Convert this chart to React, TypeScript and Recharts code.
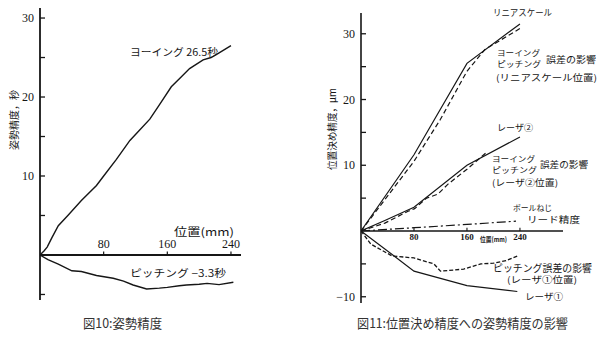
import { Line, LineChart, ReferenceLine, XAxis, YAxis } from 'recharts'

// 図10: 姿勢精度 (x: 位置 mm, y: 秒)
const yawPos = [0, 5, 9, 15, 23, 35, 52, 71, 80, 96, 113, 125, 138, 150, 165, 178, 188, 205, 215, 222, 240]
const yawVal = [0, 0.5, 1.0, 2.2, 3.7, 5.0, 6.9, 8.8, 10.0, 12.1, 14.5, 15.8, 17.2, 19.0, 21.3, 22.6, 23.6, 24.7, 25.0, 25.4, 26.5]
const pitchPos = [0, 10, 23, 40, 52, 71, 92, 105, 117, 134, 150, 160, 175, 184, 200, 210, 225, 243]
const pitchVal = [0, -0.6, -1.15, -2.0, -2.1, -2.6, -2.95, -3.3, -3.8, -4.3, -4.2, -4.1, -3.9, -3.8, -3.7, -3.6, -3.75, -3.45]

const leftYTicks = [-5, 5, 10, 15, 20, 25, 30]
const leftYLabels = [10, 20, 30]
const leftXTicks = [80, 160, 240]

// 図11: 位置決め精度 (x: 位置 mm, y: μm)
const scalePos = [0, 80, 160, 240]
const scaleVal = [0, 11.6, 25.5, 31.5]
const scaleEffPos = [0, 40, 80, 120, 160, 187, 240]
const scaleEffVal = [0, 5.3, 10.6, 17.0, 24.3, 27.6, 30.8]
const laser2Pos = [0, 36, 80, 160, 240]
const laser2Val = [0, 1.6, 3.6, 10.0, 14.3]
const laser2EffPos = [0, 36, 71, 81, 99, 116, 131, 160, 190]
const laser2EffVal = [0, 1.2, 3.0, 3.4, 5.0, 5.6, 7.1, 9.4, 12.0]
const screwPos = [0, 80, 160, 234]
const screwVal = [0, 0.5, 1.0, 1.5]
const pitchEffPos = [0, 15, 47, 80, 110, 120, 155, 181, 200, 219, 236]
const pitchEffVal = [0, -2.0, -3.8, -4.1, -5.0, -6.1, -5.8, -5.0, -4.9, -4.5, -3.8]
const laser1Pos = [0, 50, 80, 160, 236]
const laser1Val = [0, -3.8, -6.1, -8.3, -9.2]

const rightYTicks = [-10, -5, 5, 10, 15, 20, 25, 30]
const rightYLabels = [-10, 10, 20, 30]
const rightXTicks = [80, 160, 240]

const ink = '#161616'
const numFont = '"Liberation Serif", serif'
const jpFont = '"Noto Sans CJK JP", sans-serif'

function toPoints(xs: number[], ys: number[]) {
  return xs.map((x, i) => ({ x, y: ys[i] }))
}

function yTick(labels: number[], fontSize: number) {
  return (props: any) => {
    const { x, y, payload } = props
    const v = payload.value as number
    return (
      <g key={`t-${v}`}>
        <line x1={x} y1={y} x2={x + 5} y2={y} stroke={ink} strokeWidth={1.3} />
        {labels.includes(v) && (
          <text x={x - 6} y={y} dy="0.35em" textAnchor="end" fontSize={fontSize} fontFamily={numFont} fill={ink}>
            {v < 0 ? `−${-v}` : v}
          </text>
        )}
      </g>
    )
  }
}

function AttitudeChart() {
  return (
    <LineChart width={607} height={342} margin={{ top: 8, right: 366, bottom: 42, left: 10 }}>
      <XAxis type="number" dataKey="x" domain={[0, 252.6]} allowDataOverflow hide />
      <YAxis
        type="number"
        domain={[-5.7, 31.27]}
        allowDataOverflow
        ticks={leftYTicks}
        interval={0}
        width={30}
        tickSize={0}
        tickMargin={0}
        tickLine={false}
        axisLine={{ stroke: ink, strokeWidth: 1.8 }}
        tick={yTick(leftYLabels, 12)}
      />
      <ReferenceLine y={0} stroke={ink} strokeWidth={1.8} />
      {leftXTicks.map((t) => (
        <ReferenceLine
          key={t}
          segment={[{ x: t, y: 0.45 }, { x: t, y: 0 }]}
          stroke={ink}
          strokeWidth={1.2}
          label={{ value: String(t), position: 'top', offset: 3, fontSize: 12, fontFamily: numFont, fill: ink }}
        />
      ))}
      <Line data={toPoints(yawPos, yawVal)} dataKey="y" type="linear" stroke={ink} strokeWidth={1.4} dot={false} isAnimationActive={false} />
      <Line data={toPoints(pitchPos, pitchVal)} dataKey="y" type="linear" stroke={ink} strokeWidth={1.4} dot={false} isAnimationActive={false} />
    </LineChart>
  )
}

function PositioningChart() {
  return (
    <LineChart width={607} height={342} margin={{ top: 13, right: 44, bottom: 39, left: 331 }}>
      <XAxis type="number" dataKey="x" domain={[0, 305]} allowDataOverflow hide />
      <YAxis
        type="number"
        domain={[-10.95, 33.16]}
        allowDataOverflow
        ticks={rightYTicks}
        interval={0}
        width={30}
        tickSize={0}
        tickMargin={0}
        tickLine={false}
        axisLine={{ stroke: ink, strokeWidth: 1.6 }}
        tick={yTick(rightYLabels, 12)}
      />
      <ReferenceLine y={0} stroke={ink} strokeWidth={1.6} />
      {rightXTicks.map((t) => (
        <ReferenceLine
          key={t}
          segment={[{ x: t, y: 0.5 }, { x: t, y: 0 }]}
          stroke={ink}
          strokeWidth={1.1}
          label={{ value: String(t), position: 'bottom', offset: 3, fontSize: 9, fontWeight: 'bold', fontFamily: numFont, fill: ink }}
        />
      ))}
      <Line data={toPoints(scalePos, scaleVal)} dataKey="y" type="linear" stroke={ink} strokeWidth={1.2} dot={false} isAnimationActive={false} />
      <Line data={toPoints(scaleEffPos, scaleEffVal)} dataKey="y" type="linear" stroke={ink} strokeWidth={1.2} strokeDasharray="5 3" dot={false} isAnimationActive={false} />
      <Line data={toPoints(laser2Pos, laser2Val)} dataKey="y" type="linear" stroke={ink} strokeWidth={1.2} dot={false} isAnimationActive={false} />
      <Line data={toPoints(laser2EffPos, laser2EffVal)} dataKey="y" type="linear" stroke={ink} strokeWidth={1.2} strokeDasharray="5 3" dot={false} isAnimationActive={false} />
      <Line data={toPoints(screwPos, screwVal)} dataKey="y" type="linear" stroke={ink} strokeWidth={1.2} strokeDasharray="9 3 2 3" dot={false} isAnimationActive={false} />
      <Line data={toPoints(pitchEffPos, pitchEffVal)} dataKey="y" type="linear" stroke={ink} strokeWidth={1.3} strokeDasharray="4 2" dot={false} isAnimationActive={false} />
      <Line data={toPoints(laser1Pos, laser1Val)} dataKey="y" type="linear" stroke={ink} strokeWidth={1.2} dot={false} isAnimationActive={false} />
    </LineChart>
  )
}

type Note = { text: string; x: number; y: number; w: number; size: number; weight?: string }

const notes: Note[] = [
  { text: 'ヨーイング 26.5秒', x: 130, y: 52, w: 88, size: 10 },
  { text: 'ピッチング −3.3秒', x: 130, y: 273, w: 96, size: 10 },
  { text: '位置(mm)', x: 174, y: 232, w: 60, size: 11 },
  { text: 'リニアスケール', x: 493, y: 13, w: 59, size: 9 },
  { text: 'ヨーイング', x: 497, y: 53, w: 43, size: 8 },
  { text: 'ピッチング', x: 497, y: 64, w: 44, size: 8 },
  { text: '誤差の影響', x: 546, y: 60, w: 50, size: 9 },
  { text: '(リニアスケール位置)', x: 496, y: 78, w: 101, size: 9 },
  { text: 'レーザ②', x: 497, y: 128, w: 36, size: 9 },
  { text: 'ヨーイング', x: 492, y: 159, w: 43, size: 8 },
  { text: 'ピッチング', x: 492, y: 170, w: 45, size: 8 },
  { text: '誤差の影響', x: 540, y: 165, w: 48, size: 9 },
  { text: '(レーザ②位置)', x: 492, y: 183, w: 66, size: 9 },
  { text: 'ボールねじ', x: 513, y: 208, w: 39, size: 8 },
  { text: 'リード精度', x: 527, y: 220, w: 53, size: 9 },
  { text: 'ピッチング誤差の影響', x: 493, y: 268, w: 99, size: 10 },
  { text: '(レーザ①位置)', x: 507, y: 280, w: 70, size: 9 },
  { text: 'レーザ①', x: 525, y: 297, w: 38, size: 9 },
  { text: '位置(mm)', x: 480, y: 240, w: 27, size: 7, weight: 'bold' },
]

function Annotations() {
  return (
    <svg width={607} height={342} style={{ position: 'absolute', left: 0, top: 0, pointerEvents: 'none' }}>
      {notes.map((n, i) => (
        <text
          key={i}
          x={n.x}
          y={n.y}
          dy="0.35em"
          fontSize={n.size}
          fontWeight={n.weight}
          fontFamily={jpFont}
          fill={ink}
          textLength={n.w}
          lengthAdjust="spacingAndGlyphs"
        >
          {n.text}
        </text>
      ))}
      <text transform="translate(14,120) rotate(-90)" textAnchor="middle" dy="0.35em" fontSize={10} fontFamily={jpFont} fill={ink} textLength={60} lengthAdjust="spacingAndGlyphs">
        姿勢精度，秒
      </text>
      <text transform="translate(332,129) rotate(-90)" textAnchor="middle" dy="0.35em" fontSize={10} fontFamily={jpFont} fill={ink} textLength={82} lengthAdjust="spacingAndGlyphs">
        位置決め精度，μm
      </text>
      <text x={83} y={323} dy="0.35em" fontSize={13} fontFamily={jpFont} fill="#333" textLength={79} lengthAdjust="spacingAndGlyphs">
        図10:姿勢精度
      </text>
      <text x={357} y={323} dy="0.35em" fontSize={13} fontFamily={jpFont} fill="#333" textLength={211} lengthAdjust="spacingAndGlyphs">
        図11:位置決め精度への姿勢精度の影響
      </text>
    </svg>
  )
}

export default function App() {
  return (
    <div style={{ position: 'absolute', left: 0, top: 0, width: 607, height: 342, background: '#fff' }}>
      <div style={{ position: 'absolute', left: 0, top: 0 }}>
        <AttitudeChart />
      </div>
      <div style={{ position: 'absolute', left: 0, top: 0 }}>
        <PositioningChart />
      </div>
      <Annotations />
    </div>
  )
}
